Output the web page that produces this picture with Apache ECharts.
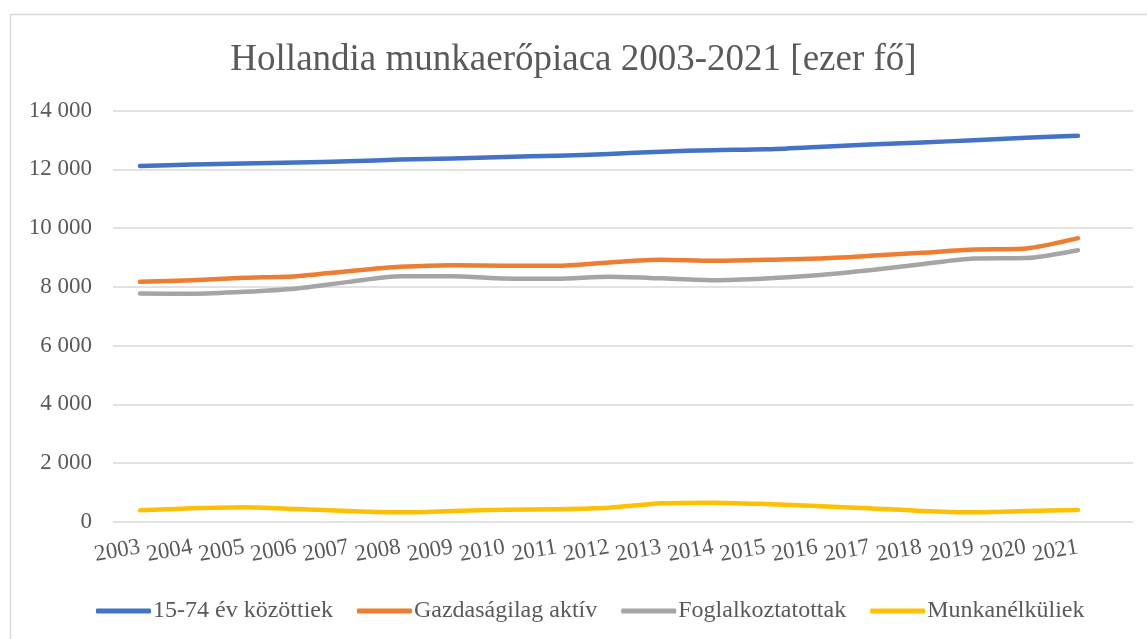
<!DOCTYPE html>
<html>
<head>
<meta charset="utf-8">
<style>
  html, body { margin: 0; padding: 0; background: #fff; }
  #chart { width: 1147px; height: 639px; }
</style>
<script src="https://cdn.jsdelivr.net/npm/echarts@6/dist/echarts.min.js"></script>
</head>
<body>
<div id="chart"></div>
<script>
// évek (x tengely)
const years = ['2003', '2004', '2005', '2006', '2007', '2008', '2009', '2010', '2011', '2012',
  '2013', '2014', '2015', '2016', '2017', '2018', '2019', '2020', '2021']

// sorozatok [ezer fő]
const kozottiek = [12115, 12160, 12200, 12230, 12270, 12330, 12370, 12420, 12460, 12520,
  12600, 12650, 12680, 12760, 12840, 12910, 12990, 13070, 13140]
const aktiv = [8170, 8228, 8306, 8364, 8534, 8680, 8738, 8720, 8715, 8830,
  8920, 8885, 8920, 8964, 9055, 9158, 9270, 9305, 9656]
const foglalkoztatottak = [7776, 7765, 7830, 7945, 8170, 8364, 8364, 8285, 8273, 8340,
  8290, 8228, 8285, 8398, 8568, 8772, 8964, 8980, 9248]
const munkanelkuliek = [397, 465, 499, 442, 374, 329, 374, 420, 437, 487,
  635, 657, 612, 544, 465, 374, 329, 374, 408]

const seriesNames = ['15-74 év közöttiek', 'Gazdaságilag aktív', 'Foglalkoztatottak', 'Munkanélküliek']
const colors = ['#4472C4', '#ED7D31', '#A5A5A5', '#FFC000']

const yTicks = { min: 0, max: 14000, interval: 2000 }

const font = '"Liberation Serif", "Times New Roman", serif'
const textColor = '#595959'

const chart = echarts.init(document.getElementById('chart'))

function fmt(v) {
  return String(v).replace(/\B(?=(\d{3})+(?!\d))/g, ' ')
}

const dataSets = [kozottiek, aktiv, foglalkoztatottak, munkanelkuliek]
const series = dataSets.map((d, i) => ({
  name: seriesNames[i],
  type: 'line',
  smooth: 0.25,
  xAxisIndex: 0,
  yAxisIndex: 0,
  symbol: 'none',
  data: d,
  lineStyle: { width: 4.5, color: colors[i], cap: 'round', join: 'round' },
  itemStyle: { color: colors[i] },
  z: 10 - i
}))

chart.setOption({
  animation: false,
  backgroundColor: '#fff',
  textStyle: { fontFamily: font },
  graphic: [{
    type: 'rect',
    shape: { x: 10.5, y: 14.5, width: 1200, height: 700 },
    style: { fill: 'none', stroke: '#d9d9d9', lineWidth: 1.5 },
    silent: true
  }],
  title: {
    text: 'Hollandia munkaerőpiaca 2003-2021 [ezer fő]',
    left: 'center',
    top: 37,
    textStyle: { fontFamily: font, fontSize: 37, fontWeight: 'normal', color: textColor }
  },
  legend: {
    left: 91,
    top: 594,
    itemWidth: 55,
    itemHeight: 5,
    itemGap: 24,
    icon: 'roundRect',
    data: seriesNames,
    textStyle: { fontFamily: font, fontSize: 24, color: textColor, padding: [0, 0, 0, -3] }
  },
  grid: [
    // vonalak rajzterülete
    { left: 114, right: 43, top: 110.5, bottom: 117 },
    // rácsvonalak (a jobb szélig nyúlnak)
    { left: 113, right: 14, top: 110.5, bottom: 117 }
  ],
  xAxis: [{
    gridIndex: 0,
    type: 'category',
    data: years,
    boundaryGap: true,
    axisLine: { show: false },
    axisTick: { show: false },
    axisLabel: {
      rotate: 10,
      margin: 25,
      fontFamily: font,
      fontSize: 23,
      color: textColor,
      interval: 0
    }
  }, {
    gridIndex: 1,
    type: 'value',
    show: false
  }],
  yAxis: [{
    gridIndex: 0,
    type: 'value',
    min: yTicks.min,
    max: yTicks.max,
    interval: yTicks.interval,
    show: false
  }, {
    gridIndex: 1,
    type: 'value',
    min: yTicks.min,
    max: yTicks.max,
    interval: yTicks.interval,
    axisLine: { show: false },
    axisTick: { show: false },
    axisLabel: {
      margin: 21,
      fontFamily: font,
      fontSize: 23,
      color: textColor,
      formatter: fmt
    },
    splitLine: { lineStyle: { color: '#d9d9d9', width: 1.5 } }
  }],
  series: series
})
</script>
</body>
</html>
